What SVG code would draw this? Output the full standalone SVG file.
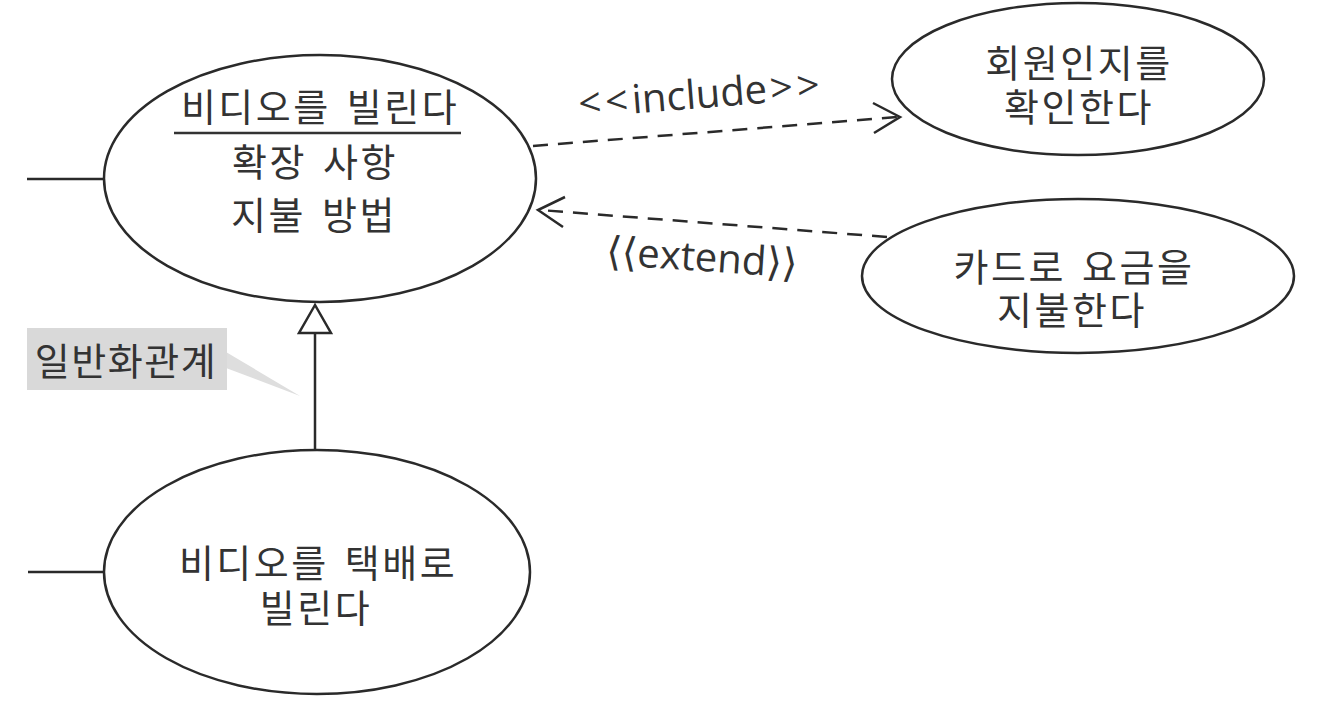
<svg xmlns="http://www.w3.org/2000/svg" width="1338" height="708" viewBox="0 0 1338 708">
<defs>
<style>
.uc{fill:#fff;stroke:#2a2a2a;stroke-width:2.5}
.kt{font-family:"Noto Sans CJK KR","Noto Sans",sans-serif;font-size:38px;letter-spacing:2.5px;word-spacing:5px;fill:#333;text-anchor:middle}
.lt{font-family:"Open Sans","DejaVu Sans","Noto Sans",sans-serif;font-size:40px;fill:#333;text-anchor:middle}
.ln{fill:none;stroke:#2a2a2a;stroke-width:2.5}
.dash{stroke-dasharray:15 10}
</style>
</defs>
<rect width="1338" height="708" fill="#fff"/>
<g id="connectors">
<line class="ln" x1="27" y1="179" x2="104" y2="179"/>
<line class="ln" x1="28" y1="572" x2="105" y2="572"/>
<line class="ln" x1="315" y1="333" x2="315" y2="450"/>
<polygon class="ln" points="315,305 299,333 331,333"/>
<line class="ln dash" x1="533" y1="146" x2="898" y2="117"/>
<polyline class="ln" points="873,103 900,117 874,133"/>
<line class="ln dash" x1="887" y1="237" x2="540" y2="210"/>
<polyline class="ln" points="565,197 538,210 563,227"/>
<text class="lt" transform="translate(702,108) rotate(-4.6)"><tspan letter-spacing="4">&lt;&lt;</tspan>include<tspan letter-spacing="4" dx="3">&gt;&gt;</tspan></text>
<text class="lt" transform="translate(701,271) rotate(3.8)">⟨⟨extend⟩⟩</text>
</g>
<g id="uc-rent">
<ellipse class="uc" cx="320" cy="178.5" rx="216" ry="123.5"/>
<text class="kt" x="320" y="121">비디오를 빌린다</text>
<line x1="174" y1="133" x2="461" y2="133" stroke="#333" stroke-width="2.5"/>
<text class="kt"><tspan x="315" y="176">확장 사항</tspan><tspan x="314" y="229">지불 방법</tspan></text>
</g>
<g id="uc-member">
<ellipse class="uc" cx="1078" cy="79" rx="186" ry="76"/>
<text class="kt"><tspan x="1079" y="77">회원인지를</tspan><tspan x="1079" y="121">확인한다</tspan></text>
</g>
<g id="uc-card">
<ellipse class="uc" cx="1078" cy="276" rx="216" ry="77"/>
<text class="kt"><tspan x="1074" y="281">카드로 요금을</tspan><tspan x="1072" y="324">지불한다</tspan></text>
</g>
<g id="uc-delivery">
<ellipse class="uc" cx="317" cy="572" rx="213" ry="122"/>
<text class="kt"><tspan x="318" y="577">비디오를 택배로</tspan><tspan x="316" y="622">빌린다</tspan></text>
</g>
<g id="note">
<polygon points="226,352 226,368 300,396" fill="#dedede"/>
<rect x="27" y="328" width="200" height="62" fill="#d9d9d9"/>
<text class="kt" x="126" y="375" style="letter-spacing:1.5px">일반화관계</text>
</g>
</svg>
